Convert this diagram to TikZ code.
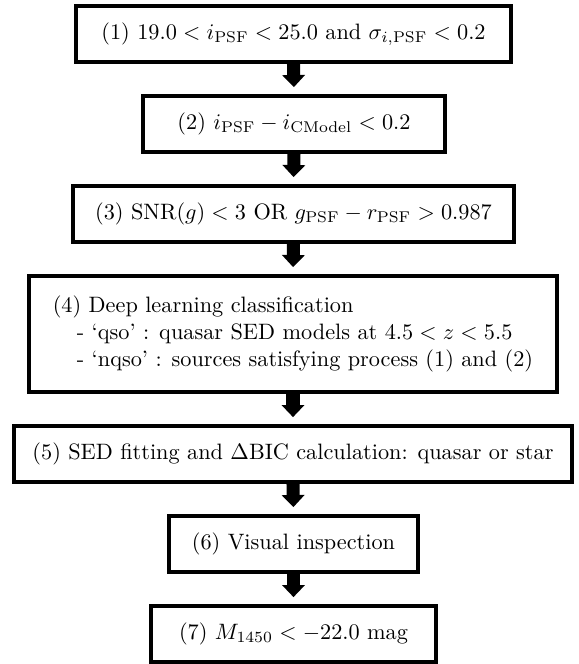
\documentclass[tikz,border=0pt]{standalone}
\usetikzlibrary{arrows.meta}
\newcommand\pxu{0.449pt}
\begin{document}
\begin{tikzpicture}[x=0.449pt,y=-0.449pt,
  box/.style={draw, line width=1.8pt, rectangle, inner sep=0pt,
    minimum height=56*\pxu, align=center},
  flow/.style={line width=5.84pt,
    -{Triangle[width=10.3pt,length=5.4pt,line width=0pt]},
    shorten >=3.1pt}]
\useasboundingbox (0,0) rectangle (579,664);
\node[box, minimum width=435*\pxu] (b1) at (293.5,34)
  {(1) $19.0<i_{\rm PSF}<25.0$ and $\sigma_{i,{\rm PSF}}<0.2$};
\node[box, minimum width=302*\pxu] (b2) at (294,124)
  {(2) $i_{\rm PSF}-i_{\rm CModel}<0.2$};
\node[box, minimum width=441*\pxu] (b3) at (293.5,214)
  {(3) SNR$(g)<3$ OR $g_{\rm PSF}-r_{\rm PSF}>0.987$};
\node[box, minimum width=528*\pxu, minimum height=116*\pxu, align=left] (b4) at (293,334)
  {(4) Deep learning classification\\
   \hspace*{10.8pt}- `qso' : quasar SED models at $4.5<z<5.5$\\
   \hspace*{10.8pt}- `nqso' : sources satisfying process (1) and (2)};
\node[box, minimum width=558*\pxu] (b5) at (293,454)
  {(5) SED fitting and $\Delta$BIC calculation: quasar or star};
\node[box, minimum width=249*\pxu] (b6) at (293.5,544)
  {(6) Visual inspection};
\node[box, minimum width=285*\pxu] (b7) at (293.5,634)
  {(7) $M_{1450}<-22.0$ mag};
\draw[flow] (b1.south) -- (b2.north);
\draw[flow] (b2.south) -- (b3.north);
\draw[flow] (b3.south) -- (b4.north);
\draw[flow] (b4.south) -- (b5.north);
\draw[flow] (b5.south) -- (b6.north);
\draw[flow] (b6.south) -- (b7.north);
\end{tikzpicture}
\end{document}
